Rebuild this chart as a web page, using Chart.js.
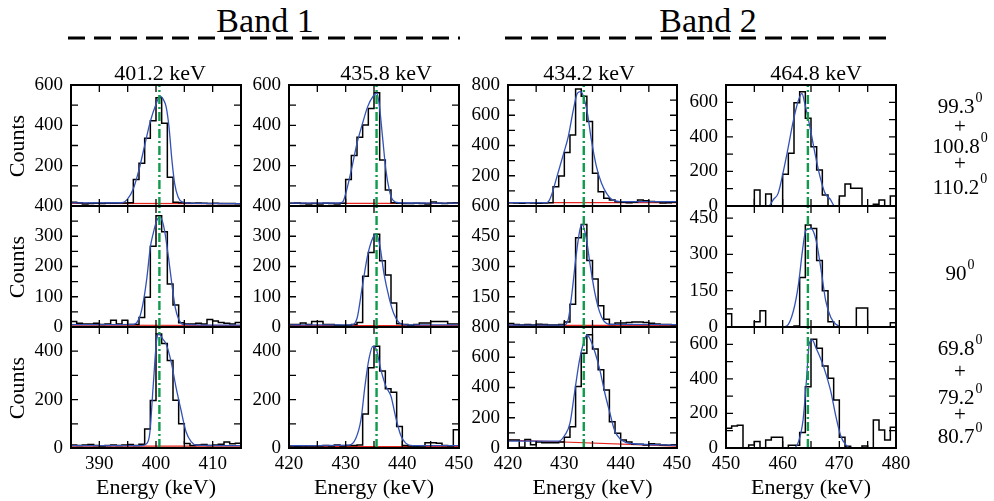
<!DOCTYPE html>
<html>
<head>
<meta charset="utf-8">
<script src="https://cdn.jsdelivr.net/npm/chart.js@4.4.1/dist/chart.umd.min.js"></script>
<style>
  body { margin: 0; background: #fff; }
  #fig { position: relative; width: 994px; height: 501px; overflow: hidden;
         font-family: 'Liberation Serif', 'Times New Roman', serif; color: #000; }
  #fig canvas { position: absolute; }
  .lbl { position: absolute; white-space: nowrap; line-height: 1; transform: translate(-50%, -50%); }
  .sup { font-size: 14px; position: relative; top: -11px; margin-left: 1px; }
</style>
</head>
<body>
<div id="fig"></div>
<script>
// energy window of each column (keV) and peak labels
const energyLo = [385, 420, 420, 450];
const energyHi = [415, 450, 450, 480];
const peakLabels = ['401.2 keV', '435.8 keV', '434.2 keV', '464.8 keV'];
const gammaEnergy = [400.6, 435.45, 433.45, 464.45];
const bandTitles = ['Band 1', 'Band 2'];
const angleGroups = [['99.3', '+', '100.8', '+', '110.2'], ['90'], ['69.8', '+', '79.2', '+', '80.7']];

// y axis per row / column
const yMax = [[600, 600, 800, 700], [400, 400, 600, 500], [500, 500, 800, 700]];
const yMinor = [[100, 100, 100, 100], [50, 50, 75, 75], [100, 100, 100, 100]];
const yLabelStep = [[200, 200, 200, 200], [100, 100, 150, 150], [200, 200, 200, 200]];

// histograms, 1 keV bins starting at energyLo
const counts_r1c1 = [18,16,10,12,14,13,15,14,15,15,16,132,212,336,423,537,410,142,18,16,15,14,15,14,13,14,12,13,12,11];
const counts_r2c1 = [18,12,10,10,12,8,10,22,10,22,8,8,31,98,267,368,315,142,73,14,10,10,12,10,25,20,15,12,10,15];
const counts_r3c1 = [12,10,12,14,10,8,10,12,10,12,14,10,15,78,196,471,432,362,197,100,19,10,12,14,10,12,15,25,18,20];
const counts_r1c2 = [14,15,12,10,12,10,14,12,10,14,132,250,341,402,484,562,228,79,16,14,12,12,14,12,10,20,14,12,15,16];
const counts_r2c2 = [8,8,13,8,18,18,8,8,6,5,6,8,15,168,246,307,219,172,79,11,8,6,8,13,13,18,18,18,10,10];
const counts_r3c2 = [8,5,4,8,8,8,10,8,12,8,10,10,12,140,332,420,318,245,230,89,10,8,6,8,22,22,20,10,8,75];
const counts_r1c3 = [22,20,18,22,20,18,20,22,128,199,353,470,773,726,558,216,95,51,40,28,25,22,25,40,35,30,28,20,22,25];
const counts_r2c3 = [17,12,10,12,10,14,12,10,10,12,25,113,442,508,330,238,105,38,13,20,20,22,25,25,22,18,15,12,12,10];
const counts_r3c3 = [53,53,5,57,22,40,35,35,35,40,71,141,406,627,748,654,517,384,174,97,53,40,25,25,20,28,25,20,18,22];
const counts_r1c4 = [0,0,0,0,0,92,0,69,0,0,183,305,598,661,508,343,208,64,0,0,58,127,102,102,0,0,10,35,0,58];
const counts_r2c4 = [55,0,0,0,0,22,67,0,0,0,0,0,4,205,421,407,275,150,22,0,0,0,0,78,78,0,0,0,0,18];
const counts_r3c4 = [114,127,131,0,17,37,0,46,62,62,0,16,16,89,355,629,577,474,403,278,62,10,0,0,12,0,162,104,46,120];

// fitted curves, [energy, counts]
const fit_r1c1 = [[385,15],[394,16],[395,35],[396,85],[397,180],[398,300],[399,420],[400,505],[400.7,545],[401.3,528],[401.8,490],[402.3,390],[402.8,230],[403.3,110],[403.9,45],[404.6,20],[406,14],[415,12]];
const fit_r2c1 = [[385,8],[396,9],[396.6,14],[397.2,37],[397.8,87],[398.4,164],[399,264],[399.5,309],[400.1,350],[400.7,365],[401.2,345],[401.6,309],[402.2,231],[402.8,142],[403.4,64],[404,26],[404.8,9],[415,6]];
const fit_r3c1 = [[385,10],[397.5,10],[398.4,19],[398.9,61],[399.5,255],[400.1,443],[400.5,471],[401.2,450],[401.8,429],[402.7,353],[403.5,255],[404.4,158],[405.3,67],[406.2,26],[407.1,12],[415,10]];
const fit_r1c2 = [[420,14],[429,15],[429.5,21],[430.1,71],[431,178],[432,311],[432.9,402],[433.9,494],[434.8,542],[435.5,559],[435.9,509],[436.5,344],[437.1,178],[437.7,79],[438.3,30],[439.4,16],[450,14]];
const fit_r2c2 = [[420,7],[431,7],[432,28],[432.9,129],[433.9,239],[434.8,295],[435.4,308],[436,272],[436.8,172],[437.7,94],[438.5,44],[439.4,15],[440.6,7],[450,7]];
const fit_r3c2 = [[420,10],[430.6,12],[431.8,40],[432.7,117],[433.4,255],[434.1,367],[434.8,420],[435.4,408],[436.2,325],[437.1,255],[438,214],[438.8,130],[439.7,54],[440.6,20],[441.8,10],[450,10]];
const fit_r1c3 = [[420,22],[426.9,22],[427.3,35],[427.8,80],[428.6,183],[429.8,338],[430.7,459],[431.6,636],[432.3,745],[432.9,756],[433.4,723],[434.1,613],[434.8,437],[435.7,260],[436.6,150],[437.5,84],[438.4,44],[439.9,29],[450,29]];
const fit_r2c3 = [[420,10],[429.8,9],[430.7,38],[431.3,155],[432.1,355],[432.8,488],[433.2,508],[433.9,438],[434.6,305],[435.4,172],[436.2,80],[437,30],[438.1,13],[450,12]];
const fit_r3c3 = [[420,45],[429,45],[430.1,86],[431,164],[431.8,362],[432.7,583],[433.4,693],[434,748],[434.5,726],[435.4,638],[436.3,517],[437.2,362],[438.1,230],[438.9,119],[439.8,64],[441,35],[442.2,28],[450,18]];
const fit_r1c4 = [[450,0],[457.5,0],[458.4,39],[459.2,73],[460.1,198],[461,343],[461.9,497],[462.8,613],[463.4,652],[463.9,594],[464.8,459],[465.7,305],[466.6,169],[467.5,73],[468.4,39],[469.2,0],[480,0]];
const fit_r2c4 = [[450,0],[459.5,0],[460.7,4],[461.9,67],[462.8,178],[463.5,317],[464.1,400],[465,407],[465.9,358],[466.8,233],[467.6,108],[468.5,39],[469.4,11],[470.6,0],[480,0]];
const fit_r3c4 = [[450,0],[461.9,0],[462.8,37],[463.6,162],[464.2,393],[464.7,605],[465.2,625],[465.9,577],[466.8,509],[467.6,432],[468.5,326],[469.4,181],[470.3,65],[471.2,17],[472,0],[480,0]];

// linear background, counts at energyLo and energyHi
const bg_r1c1 = [13, 12], bg_r2c1 = [6, 5], bg_r3c1 = [8, 8];
const bg_r1c2 = [13, 13], bg_r2c2 = [5, 5], bg_r3c2 = [6, 6];
const bg_r1c3 = [22, 22], bg_r2c3 = [8, 8], bg_r3c3 = [53, 12];
const bg_r1c4 = [1, 1], bg_r2c4 = [1, 1], bg_r3c4 = [1, 1];

const counts = [[counts_r1c1, counts_r1c2, counts_r1c3, counts_r1c4],
                [counts_r2c1, counts_r2c2, counts_r2c3, counts_r2c4],
                [counts_r3c1, counts_r3c2, counts_r3c3, counts_r3c4]];
const fits = [[fit_r1c1, fit_r1c2, fit_r1c3, fit_r1c4],
              [fit_r2c1, fit_r2c2, fit_r2c3, fit_r2c4],
              [fit_r3c1, fit_r3c2, fit_r3c3, fit_r3c4]];
const bgs = [[bg_r1c1, bg_r1c2, bg_r1c3, bg_r1c4],
             [bg_r2c1, bg_r2c2, bg_r2c3, bg_r2c4],
             [bg_r3c1, bg_r3c2, bg_r3c3, bg_r3c4]];

// page geometry (plot areas in px)
const colLeft = [71, 289, 508, 726];
const colRight = [241, 459, 677, 896];
const rowTop = [85, 206, 327];
const rowBottom = [206, 327, 448];
const YW = 60, PT = 26, PR = 22, TICK = 7;
const FONT = "'Liberation Serif', 'Times New Roman', serif";
const GREEN = '#0f9a4c', BLUE = '#3352b8', RED = '#e6261f';

const fig = document.getElementById('fig');

// frame + inward ticks on all four sides
const frameTicks = {
  id: 'frameTicks',
  afterDatasetsDraw (chart) {
    const { ctx, chartArea: a, scales: { x, y } } = chart;
    ctx.save();
    ctx.strokeStyle = '#000';
    ctx.lineWidth = 1.3;
    ctx.beginPath();
    x.ticks.forEach(t => {
      const px = x.getPixelForValue(t.value);
      ctx.moveTo(px, a.bottom); ctx.lineTo(px, a.bottom - TICK);
      ctx.moveTo(px, a.top); ctx.lineTo(px, a.top + TICK);
    });
    y.ticks.forEach(t => {
      const py = y.getPixelForValue(t.value);
      ctx.moveTo(a.left, py); ctx.lineTo(a.left + TICK, py);
      ctx.moveTo(a.right, py); ctx.lineTo(a.right - TICK, py);
    });
    ctx.stroke();
    ctx.lineWidth = 2;
    ctx.strokeRect(a.left, a.top, a.right - a.left, a.bottom - a.top);
    ctx.restore();
  }
};

// step outline: edge, bin centres, edge (stepped 'middle' switches on bin edges)
function stepPoints (lo, vals) {
  const pts = [{ x: lo, y: vals[0] }];
  vals.forEach((v, i) => pts.push({ x: lo + i + 0.5, y: v }));
  pts.push({ x: lo + vals.length, y: vals[vals.length - 1] });
  return pts;
}

function makePanel (r, c) {
  const L = colLeft[c], R = colRight[c], T = rowTop[r], B = rowBottom[r];
  const xH = r === 2 ? 46 : PT;
  const w = (R - L) + YW + PR, h = PT + (B - T) + xH;
  const cv = document.createElement('canvas');
  cv.width = w; cv.height = h;
  cv.style.left = (L - YW) + 'px';
  cv.style.top = (T - PT) + 'px';
  cv.style.width = w + 'px';
  cv.style.height = h + 'px';
  fig.appendChild(cv);

  const lo = energyLo[c], hi = energyHi[c], ymax = yMax[r][c], step = yLabelStep[r][c];
  // the zero label is covered by the top label of the panel below
  const hideZero = r < 2 && yMax[r + 1][c] % yLabelStep[r + 1][c] === 0;
  const g = gammaEnergy[c];
  const bg = bgs[r][c];

  new Chart(cv, {
    type: 'line',
    data: {
      datasets: [
        { data: [{ x: g, y: 0 }, { x: g, y: ymax }], borderColor: GREEN, borderWidth: 2.4, borderDash: [9, 3, 2, 3] },
        { data: fits[r][c].map(([x, y]) => ({ x, y })), borderColor: BLUE, borderWidth: 1.3, cubicInterpolationMode: 'monotone' },
        { data: stepPoints(lo, counts[r][c]), borderColor: '#000', borderWidth: 1.5, stepped: 'middle' },
        { data: [{ x: lo, y: bg[0] }, { x: hi, y: bg[1] }], borderColor: RED, borderWidth: 1.2 }
      ]
    },
    options: {
      responsive: false,
      animation: false,
      devicePixelRatio: 1,
      layout: { padding: { top: PT, right: PR, left: 0, bottom: 0 } },
      plugins: { legend: { display: false }, tooltip: { enabled: false } },
      elements: { point: { radius: 0 }, line: { fill: false } },
      scales: {
        x: {
          type: 'linear', min: lo, max: hi,
          grid: { display: false, drawTicks: false },
          border: { display: false },
          ticks: {
            display: r === 2, stepSize: 5, autoSkip: false, includeBounds: false,
            maxRotation: 0, minRotation: 0,
            padding: 5, color: '#000', font: { family: FONT, size: 19 },
            callback: v => (v % 10 === 0 ? String(v) : '')
          },
          afterFit: s => { s.height = xH; }
        },
        y: {
          type: 'linear', min: 0, max: ymax,
          grid: { display: false, drawTicks: false },
          border: { display: false },
          ticks: {
            stepSize: yMinor[r][c], autoSkip: false, includeBounds: false, padding: 8, color: '#000',
            font: { family: FONT, size: 19 },
            callback: v => {
              if (v % step !== 0) return '';
              if (v === 0 && hideZero) return '';
              return String(v);
            }
          },
          afterFit: s => { s.width = YW; }
        }
      }
    },
    plugins: [frameTicks]
  });
}

for (let r = 0; r < 3; r++) {
  for (let c = 0; c < 4; c++) makePanel(r, c);
}

// text around the panels
function addLabel (html, x, y, size, extra) {
  const d = document.createElement('div');
  d.className = 'lbl';
  d.innerHTML = html;
  d.style.left = x + 'px';
  d.style.top = y + 'px';
  d.style.fontSize = size + 'px';
  if (extra) Object.assign(d.style, extra);
  fig.appendChild(d);
}

const titleX = [160, 386, 589, 816];
peakLabels.forEach((t, i) => addLabel(t, titleX[i], 73, 22));
colLeft.forEach((L, i) => addLabel('Energy (keV)', (L + colRight[i]) / 2, 487, 22));
rowTop.forEach((T, i) => addLabel('Counts', 17, (T + rowBottom[i]) / 2, 22,
  { transform: 'translate(-50%, -50%) rotate(-90deg)' }));

const bandX = [265, 708];
bandTitles.forEach((t, i) => addLabel(t, bandX[i], 21, 34));

const angleY = [[105.5, 125.5, 145.5, 163, 186.5], [272.5], [347.5, 371, 396.5, 414, 435.5]];
angleGroups.forEach((grp, gi) => {
  grp.forEach((t, k) => {
    const html = t === '+' ? '+' : t + '<span class="sup">0</span>';
    addLabel(html, 960, angleY[gi][k], 21);
  });
});

// dashed rules under the band titles
const svgNS = 'http://www.w3.org/2000/svg';
const svg = document.createElementNS(svgNS, 'svg');
svg.setAttribute('width', 994);
svg.setAttribute('height', 501);
svg.style.position = 'absolute';
svg.style.left = '0px';
svg.style.top = '0px';
[[68, 460], [505, 893]].forEach(([x1, x2]) => {
  const ln = document.createElementNS(svgNS, 'line');
  ln.setAttribute('x1', x1); ln.setAttribute('x2', x2);
  ln.setAttribute('y1', 38); ln.setAttribute('y2', 38);
  ln.setAttribute('stroke', '#000');
  ln.setAttribute('stroke-width', 3);
  ln.setAttribute('stroke-dasharray', '17 9');
  svg.appendChild(ln);
});
fig.appendChild(svg);
</script>
</body>
</html>
